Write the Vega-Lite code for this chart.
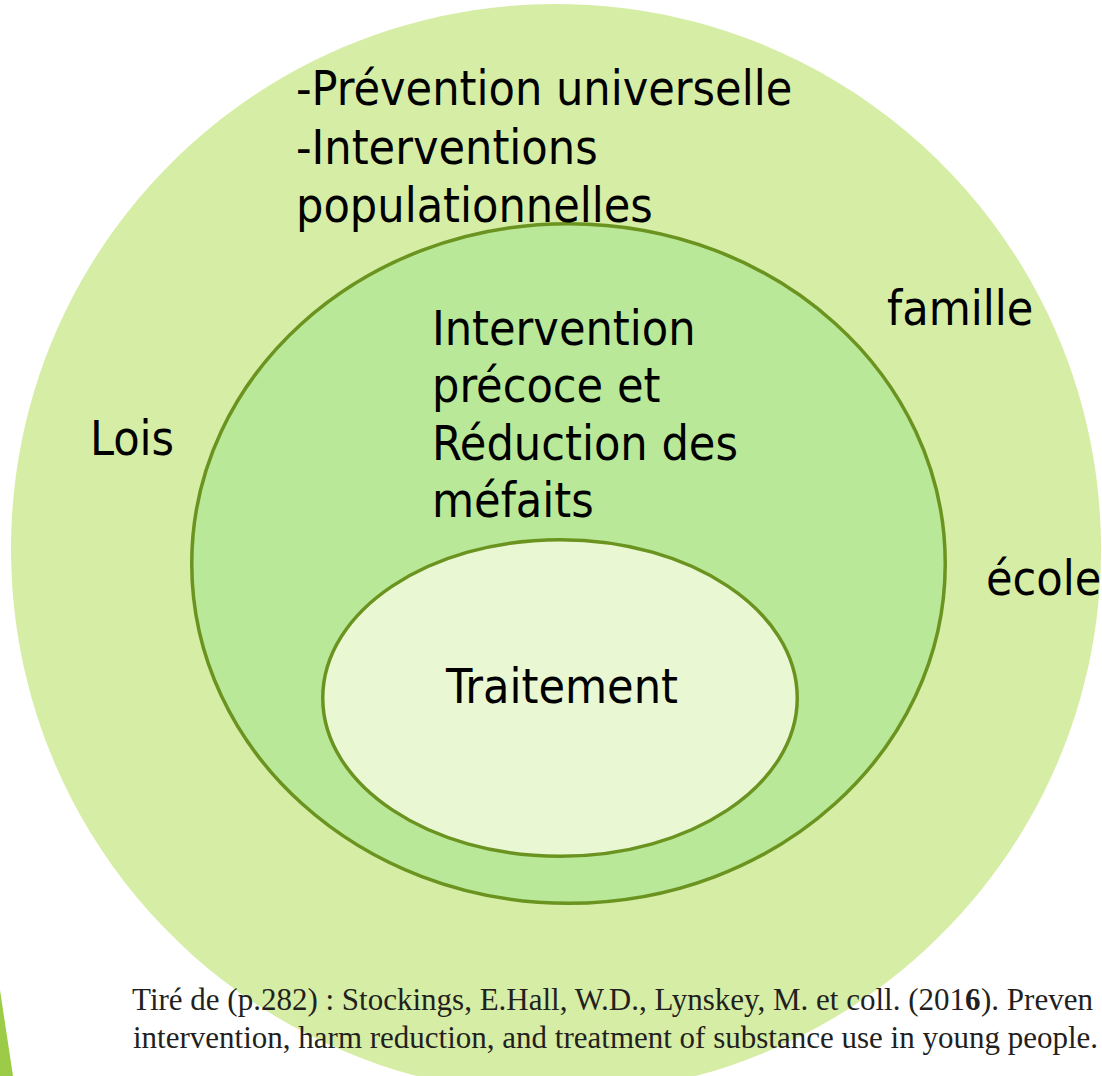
{
  "$schema": "https://vega.github.io/schema/vega-lite/v6.json",
  "width": 1102,
  "height": 1076,
  "padding": 0,
  "autosize": {"type": "none"},
  "background": "white",
  "config": {"view": {"stroke": null}},
  "datasets": {
    "zones": [
      {"zone": "outer", "x": 556, "y": 549},
      {"zone": "middle", "x": 568.5, "y": 563.5},
      {"zone": "inner", "x": 560, "y": 698}
    ],
    "wedge": [
      {"x": 0, "y": 990, "y2": 1076},
      {"x": 13, "y": 1076, "y2": 1076}
    ],
    "labels": [
      {"text": "-Prévention universelle", "x": 296, "y": 105},
      {"text": "-Interventions", "x": 296, "y": 164},
      {"text": "populationnelles", "x": 296, "y": 222},
      {"text": "famille", "x": 887, "y": 325},
      {"text": "Lois", "x": 90, "y": 455},
      {"text": "école", "x": 986, "y": 595},
      {"text": "Intervention", "x": 432, "y": 345},
      {"text": "précoce et", "x": 432, "y": 402},
      {"text": "Réduction des", "x": 432, "y": 460},
      {"text": "méfaits", "x": 432, "y": 517},
      {"text": "Traitement", "x": 446, "y": 703}
    ],
    "citation": [
      {"text": "Tiré de (p.282) : Stockings, E.Hall, W.D., Lynskey, M. et coll. (201", "x": 965, "y": 1010, "part": "a"},
      {"text": "6", "x": 965, "y": 1010, "part": "b"},
      {"text": "). Preven", "x": 981, "y": 1010, "part": "c"},
      {"text": "intervention, harm reduction, and treatment of substance use in young people.", "x": 133, "y": 1048, "part": "d"}
    ]
  },
  "encoding": {
    "x": {"field": "x", "type": "quantitative", "scale": {"domain": [0, 1102], "nice": false, "zero": false}, "axis": null},
    "y": {"field": "y", "type": "quantitative", "scale": {"domain": [0, 1076], "nice": false, "zero": false, "reverse": true}, "axis": null}
  },
  "layer": [
    {
      "data": {"name": "zones"},
      "transform": [{"filter": "datum.zone === 'outer'"}],
      "mark": {"type": "point", "filled": true, "opacity": 1, "fill": "#d6eda5", "strokeWidth": 0, "size": 1188100,
        "shape": "M 1 0 C 1 0.5523 0.5523 1 0 1 C -0.5523 1 -1 0.5523 -1 0 C -1 -0.5523 -0.5523 -1 0 -1 C 0.5523 -1 1 -0.5523 1 0 Z"}
    },
    {
      "data": {"name": "wedge"},
      "mark": {"type": "area", "fill": "#9ccb47", "opacity": 1},
      "encoding": {"y2": {"field": "y2"}}
    },
    {
      "data": {"name": "zones"},
      "transform": [{"filter": "datum.zone === 'middle'"}],
      "mark": {"type": "point", "filled": false, "opacity": 1, "fill": "#b9e898", "stroke": "#6b931f", "strokeWidth": 3.5, "size": 567762,
        "shape": "M 1 0 C 1 0.4982 0.5523 0.902 0 0.902 C -0.5523 0.902 -1 0.4982 -1 0 C -1 -0.4982 -0.5523 -0.902 0 -0.902 C 0.5523 -0.902 1 -0.4982 1 0 Z"}
    },
    {
      "data": {"name": "zones"},
      "transform": [{"filter": "datum.zone === 'inner'"}],
      "mark": {"type": "point", "filled": false, "opacity": 1, "fill": "#eaf7d3", "stroke": "#6b931f", "strokeWidth": 3.5, "size": 225150,
        "shape": "M 1 0 C 1 0.3684 0.5523 0.667 0 0.667 C -0.5523 0.667 -1 0.3684 -1 0 C -1 -0.3684 -0.5523 -0.667 0 -0.667 C 0.5523 -0.667 1 -0.3684 1 0 Z"}
    },
    {
      "data": {"name": "labels"},
      "mark": {"type": "text", "align": "left", "baseline": "alphabetic", "font": "DejaVu Sans Condensed, DejaVu Sans", "fontSize": 48, "color": "#000000"},
      "encoding": {"text": {"field": "text"}}
    },
    {
      "data": {"name": "citation"},
      "transform": [{"filter": "datum.part === 'a'"}],
      "mark": {"type": "text", "align": "right", "baseline": "alphabetic", "font": "Liberation Serif", "fontSize": 31, "color": "#231f20"},
      "encoding": {"text": {"field": "text"}}
    },
    {
      "data": {"name": "citation"},
      "transform": [{"filter": "datum.part === 'b'"}],
      "mark": {"type": "text", "align": "left", "baseline": "alphabetic", "font": "Liberation Serif", "fontSize": 31, "fontWeight": "bold", "color": "#231f20"},
      "encoding": {"text": {"field": "text"}}
    },
    {
      "data": {"name": "citation"},
      "transform": [{"filter": "datum.part === 'c' || datum.part === 'd'"}],
      "mark": {"type": "text", "align": "left", "baseline": "alphabetic", "font": "Liberation Serif", "fontSize": 31, "color": "#231f20"},
      "encoding": {"text": {"field": "text"}}
    }
  ]
}
